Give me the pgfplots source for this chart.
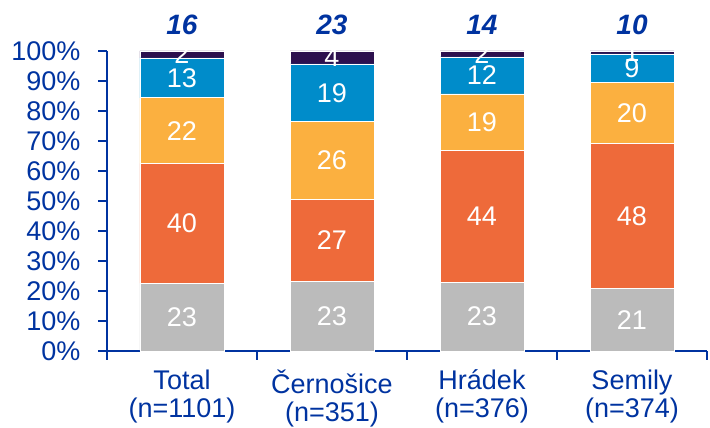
\documentclass[border=0pt]{standalone}
\usepackage{fontspec}
\setmainfont{Liberation Sans}
\usepackage{pgfplots}
\usepackage{pgfplotstable}
\pgfplotsset{compat=1.18}
\definecolor{tblue}{RGB}{0,51,160}
\definecolor{cgrey}{RGB}{187,187,187}
\definecolor{corange}{RGB}{238,106,58}
\definecolor{cyellow}{RGB}{251,176,64}
\definecolor{cblue}{RGB}{0,140,202}
\definecolor{cnavy}{RGB}{45,16,78}

\pgfplotstableread{
x y label
0 22.6 23
1 23.3 23
2 22.9 23
3 20.9 21
}\segA
\pgfplotstableread{
x y label
0 39.9 40
1 27.2 27
2 43.9 44
3 48.2 48
}\segB
\pgfplotstableread{
x y label
0 21.9 22
1 25.9 26
2 18.9 19
3 20.3 20
}\segC
\pgfplotstableread{
x y label
0 13.3 13
1 19.3 19
2 12.3 12
3 9.6 9
}\segD
\pgfplotstableread{
x y label
0 2.3 2
1 4.3 4
2 2.0 2
3 1.0 1
}\segE
\pgfplotstableread{
x y label
0 100 16
1 100 23
2 100 14
3 100 10
}\segTop

\begin{document}
\begin{tikzpicture}
\begin{axis}[
  name=ax,
  width=600pt, height=300pt, scale only axis,
  ybar stacked, bar width=84pt,
  xmin=-0.5, xmax=3.5, ymin=0, ymax=100,
  enlarge y limits=false,
  clip=false,
  axis x line*=bottom, axis y line*=left,
  axis line style={-, tblue, line width=2pt},
  tick align=outside,
  ytick={0,10,...,100},
  yticklabel={\pgfmathprintnumber{\tick}\%},
  ytick pos=left, xtick pos=bottom,
  major tick length=9pt, minor tick length=9pt,
  tick style={tblue, line width=2pt},
  xtick={0,1,2,3},
  xticklabels={{Total\\(n=1101)},{Černošice\\(n=351)},{Hrádek\\(n=376)},{Semily\\(n=374)}},
  major x tick style={draw=none},
  minor xtick={-0.5,0.5,1.5,2.5,3.5},
  ticklabel style={font=\fontsize{27}{28}\selectfont, text=tblue},
  yticklabel style={xshift=-14pt},
  xticklabel style={align=center, yshift=-6pt},
  /pgf/number format/assume math mode=true,
  seg/.style={draw=white, line width=0.6pt, point meta=explicit symbolic,
    nodes near coords,
    nodes near coords style={text=white, anchor=center, font=\fontsize{27}{30}\selectfont}},
]
\addplot[seg, fill=cgrey] table[x=x,y=y,meta=label]{\segA};
\addplot[seg, fill=corange] table[x=x,y=y,meta=label]{\segB};
\addplot[seg, fill=cyellow] table[x=x,y=y,meta=label]{\segC};
\addplot[seg, fill=cblue] table[x=x,y=y,meta=label]{\segD};
\addplot[seg, fill=cnavy] table[x=x,y=y,meta=label]{\segE};
\end{axis}
\begin{axis}[
  width=600pt, height=300pt, scale only axis,
  xmin=-0.5, xmax=3.5, ymin=0, ymax=100,
  hide axis, clip=false,
]
\addplot[only marks, mark=none, point meta=explicit symbolic, nodes near coords,
  nodes near coords style={text=tblue, anchor=center, font=\fontsize{28}{30}\selectfont\bfseries\itshape, yshift=26pt}]
  table[x=x,y=y,meta=label]{\segTop};
\end{axis}
\pgfresetboundingbox
\path[use as bounding box] ([xshift=-107pt,yshift=51pt]ax.north west) rectangle ([xshift=3pt,yshift=-77pt]ax.south east);
\end{tikzpicture}
\end{document}
